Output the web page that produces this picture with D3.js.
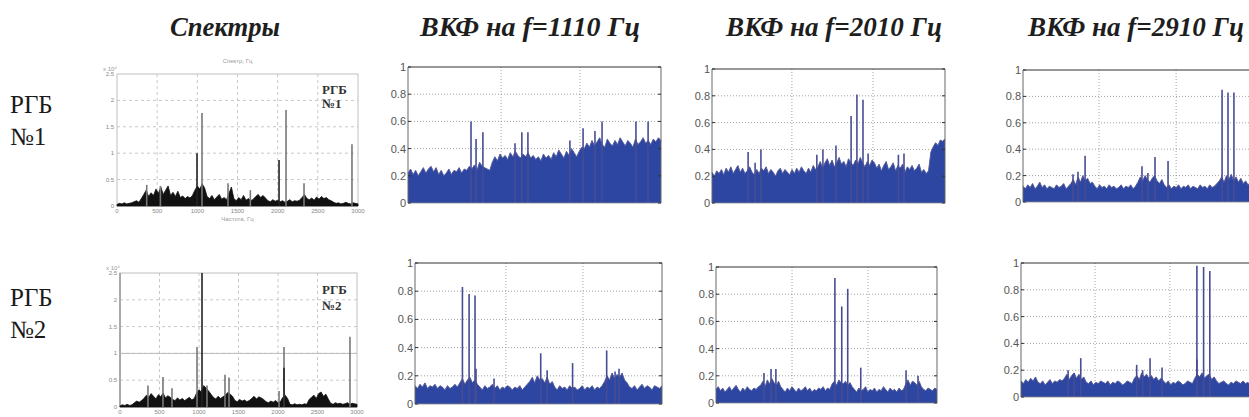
<!DOCTYPE html>
<html><head><meta charset="utf-8">
<script src="https://cdn.jsdelivr.net/npm/d3@7"></script>
<style>html,body{margin:0;padding:0;background:#fff;overflow:hidden}</style>
</head><body><svg id="c" width="1249" height="417"></svg>
<script>
// ---------- DATA ----------
const columnTitles = ["Спектры", "ВКФ на f=1110 Гц", "ВКФ на f=2010 Гц", "ВКФ на f=2910 Гц"];
const rowLabels = [["РГБ", "№1"], ["РГБ", "№2"]];
const insetLabels = [["РГБ", "№1"], ["РГБ", "№2"]];

const ccfTicks = [0, 0.2, 0.4, 0.6, 0.8, 1];
const ccfTickLabels = ["0", "0.2", "0.4", "0.6", "0.8", "1"];
const specXTicks = [0, 500, 1000, 1500, 2000, 2500, 3000];
const specXTickLabels = ["0", "500", "1000", "1500", "2000", "2500", "3000"];
const specYTicks = [0, 0.5, 1, 1.5, 2, 2.5];
const specYTickLabels = ["0", "0.5", "1", "1.5", "2", "2.5"];
const specXLabel = "Частота, Гц";
const specTitle = "Спектр, Гц";
const specMultiplier = "x 10⁴";

// spectrum floors (100 samples over 0..3000 Hz), amplitude x10^4
const spec1Floor = [0.03,0.05,0.04,0.06,0.04,0.05,0.06, 0.08,0.1,0.07, 0.14,0.22,0.3,0.18,0.25,
  0.2,0.32,0.24,0.36,0.22,0.3,0.38,0.2,0.26,0.18,0.28, 0.16,0.19,0.14,0.18,0.15,0.2,
  0.3,0.38,0.32,0.42,0.34, 0.18,0.14,0.2,0.12,0.17,0.22,0.13,0.16,0.12, 0.24,0.36,
  0.14,0.1,0.16,0.12,0.2,0.11,0.14,0.1,0.13, 0.18,0.22,0.16,0.2,0.15,
  0.1,0.08,0.12,0.09,0.11,0.08,0.1,0.07,0.09,0.12,0.08,0.1,0.09,0.11, 0.16,0.22,0.14,
  0.12,0.15,0.11,0.17,0.13,0.18,0.14,0.16,0.12,0.1, 0.07,0.05,0.06,0.04,0.05,0.07,0.05,0.04,0.06,0.05,0.04];
const spec1PeakHz = [370, 540, 996, 1058, 1382, 1660, 2017, 2104, 2328, 2925];
const spec1PeakAmp = [0.4, 0.38, 1.0, 1.76, 0.43, 0.3, 0.87, 1.82, 0.43, 1.17];

const spec2Floor = [0.02,0.04,0.03,0.05,0.03,0.04, 0.08,0.11,0.09,0.12,
  0.16,0.22,0.18,0.25,0.2,0.15,0.23,0.19,0.26,0.17,0.21,0.18, 0.14,0.12,0.17,0.13,0.16,0.12,0.15,0.18,0.13,0.16,
  0.26,0.32,0.28,0.4,0.35,0.3,0.24, 0.18,0.15,0.2,0.16,0.19, 0.22,0.27,0.24,0.2,
  0.12,0.1,0.14,0.11,0.13,0.1,0.12, 0.16,0.2,0.15,0.19,0.17,0.14, 0.1,0.08,0.11,0.09,0.12,0.08,0.1,
  0.18,0.22,0.16, 0.05,0.04,0.06,0.04,0.05,0.04,0.06,0.05, 0.14,0.18,0.22,0.16,0.25,0.28,0.2,0.24,0.15,
  0.07,0.05,0.08,0.06,0.07,0.05,0.06,0.08,0.05,0.07,0.06,0.05];
const spec2PeakHz = [354, 544, 658, 975, 1038, 1101, 1329, 1380, 2013, 2076, 2076, 2911];
const spec2PeakAmp = [0.4, 0.56, 0.35, 1.12, 2.5, 0.4, 0.6, 0.55, 0.3, 1.12, 0.73, 1.31];

// cross-correlation floors (100 samples across the lag window) and peaks (position fraction, value)
const ccf11Floor = [0.22,0.25,0.21,0.24,0.2,0.23,0.26,0.22,0.25,0.27,0.23,0.26,0.21,0.24,0.2,0.22,0.25,0.21,0.24,0.23,0.26,0.22,0.25,0.24,0.27,
  0.25,0.28,0.24,0.3,0.27,0.26,0.25,0.24,
  0.3,0.34,0.31,0.36,0.33,0.35,0.32,0.37,0.34,0.38,0.35,0.33,0.36,0.34,0.37,0.33,0.35,0.32,
  0.34,0.31,0.36,0.33,0.35,0.32,0.37,0.34,0.39,0.36,0.33,0.38,0.35,0.4,0.37,0.34,0.38,0.41,
  0.4,0.44,0.41,0.46,0.42,0.45,0.48,0.43,0.41,0.47,0.44,0.42,0.46,0.43,0.48,0.45,0.42,0.46,0.44,0.41,0.47,0.43,0.45,0.48,0.44,0.46,0.43,0.47,0.45,0.48,0.46];
const ccf11PeakPos = [0.249, 0.269, 0.296, 0.423, 0.45, 0.474, 0.64, 0.692, 0.739, 0.767, 0.901, 0.949];
const ccf11PeakVal = [0.6, 0.47, 0.52, 0.44, 0.52, 0.52, 0.46, 0.55, 0.53, 0.6, 0.6, 0.6];

const ccf12Floor = [0.23,0.2,0.24,0.22,0.25,0.21,0.26,0.23,0.27,0.22,0.25,0.28,0.23,0.26,0.22,0.24,0.27,0.23,0.21,0.25,0.22,0.26,0.24,0.27,0.22,0.25,0.23,0.2,0.24,0.26,0.22,0.25,0.23,
  0.21,0.25,0.22,0.26,0.23,0.27,0.24,0.22,0.26,0.23,0.28,0.25,
  0.27,0.31,0.26,0.3,0.33,0.28,0.32,0.27,0.3,0.34,0.29,0.31,0.27,0.33,0.3,0.28,0.32,0.29,0.34,0.3,0.27,0.31,0.28,0.32,0.3,
  0.26,0.29,0.24,0.28,0.31,0.25,0.27,0.3,0.24,0.28,0.26,0.29,0.23,0.27,0.25,0.28,0.24,0.26,0.29,0.23,0.25,0.22,0.24,
  0.38,0.42,0.45,0.43,0.47,0.46,0.48];
const ccf12PeakPos = [0.155, 0.185, 0.21, 0.45, 0.476, 0.532, 0.597, 0.622, 0.648, 0.67, 0.8, 0.824];
const ccf12PeakVal = [0.38, 0.3, 0.4, 0.36, 0.4, 0.43, 0.65, 0.81, 0.77, 0.37, 0.36, 0.37];

const ccf13Floor = [0.12,0.1,0.13,0.11,0.14,0.1,0.12,0.15,0.11,0.13,0.1,0.12,0.11,0.1,0.13,0.11,0.12,0.14,0.1,0.12,
  0.14,0.17,0.13,0.19,0.15,0.2,0.16,0.18,0.14,0.15,
  0.12,0.1,0.13,0.11,0.12,0.1,0.13,0.11,0.12,0.1,0.11,0.13,0.1,0.12,0.11,0.13,0.1,0.12,
  0.15,0.19,0.16,0.2,0.17,0.15,0.18,0.2,0.16,0.14,0.17,0.13,
  0.11,0.13,0.1,0.12,0.11,0.13,0.1,0.12,0.11,0.13,0.1,0.12,0.11,0.1,0.13,0.11,0.12,0.1,0.13,0.11,0.12,0.14,
  0.16,0.19,0.15,0.2,0.17,0.21,0.16,0.19,0.15,0.18,0.14,0.16,0.13,0.15,0.12,0.14,0.13,0.12];
const ccf13PeakPos = [0.211, 0.232, 0.262, 0.502, 0.527, 0.557, 0.612, 0.84, 0.865, 0.89];
const ccf13PeakVal = [0.21, 0.23, 0.35, 0.27, 0.22, 0.34, 0.31, 0.85, 0.83, 0.83];

const ccf21Floor = [0.13,0.11,0.14,0.12,0.15,0.11,0.13,0.12,0.14,0.11,0.13,0.12,0.1,0.13,0.11,0.12,0.14,0.12,
  0.15,0.18,0.14,0.17,0.19,0.15,0.17,0.14,
  0.12,0.1,0.13,0.11,0.12,0.14,0.11,0.13,0.1,0.12,0.11,0.13,0.12,0.1,0.12,0.11,0.13,0.1,0.12,0.14,
  0.16,0.19,0.15,0.2,0.17,0.18,0.15,0.19,0.14,0.16,
  0.12,0.1,0.13,0.11,0.12,0.1,0.13,0.11,0.12,0.1,0.11,0.13,0.1,0.12,0.11,0.13,0.1,0.12,0.11,0.13,
  0.16,0.2,0.17,0.22,0.18,0.21,0.19,0.22,0.17,0.15,
  0.12,0.11,0.13,0.1,0.12,0.14,0.11,0.13,0.12,0.1,0.13,0.12,0.11,0.13];
const ccf21PeakPos = [0.192, 0.219, 0.243, 0.247, 0.32, 0.509, 0.535, 0.638, 0.776, 0.81, 0.826];
const ccf21PeakVal = [0.83, 0.78, 0.77, 0.25, 0.18, 0.36, 0.24, 0.29, 0.38, 0.23, 0.25];

const ccf22Floor = [0.1,0.12,0.09,0.11,0.08,0.1,0.12,0.09,0.11,0.13,0.1,0.08,0.11,0.09,0.12,0.1,0.09,0.11,0.1,0.12,
  0.13,0.16,0.12,0.17,0.14,0.18,0.15,0.13,0.16,0.12,
  0.1,0.08,0.11,0.09,0.12,0.1,0.08,0.11,0.09,0.1,0.12,0.09,0.11,0.08,0.1,0.09,0.11,0.1,0.12,0.09,0.11,0.1,
  0.14,0.16,0.13,0.17,0.15,0.14,0.16,0.13,0.15,0.12,
  0.1,0.08,0.11,0.09,0.1,0.12,0.08,0.1,0.09,0.11,0.08,0.1,0.09,0.12,0.1,0.08,0.11,0.09,0.1,0.08,0.11,0.09,0.1,
  0.14,0.17,0.13,0.16,0.15,0.13,0.16,0.12,
  0.1,0.09,0.11,0.1,0.09,0.11,0.1];
const ccf22PeakPos = [0.217, 0.249, 0.271, 0.538, 0.569, 0.596, 0.655, 0.86, 0.914];
const ccf22PeakVal = [0.22, 0.25, 0.25, 0.92, 0.71, 0.84, 0.26, 0.24, 0.2];

const ccf23Floor = [0.12,0.1,0.13,0.11,0.14,0.12,0.15,0.11,0.1,0.12,0.09,0.11,0.13,0.1,0.12,0.11,0.13,0.12,
  0.14,0.17,0.13,0.16,0.18,0.14,0.17,0.13,0.15,
  0.11,0.1,0.12,0.09,0.11,0.1,0.12,0.11,0.1,0.12,0.09,0.11,0.1,0.12,0.11,0.09,0.1,0.12,0.11,0.1,
  0.14,0.16,0.13,0.18,0.15,0.17,0.14,0.16,0.13,0.15,0.12,0.14,0.12,
  0.1,0.12,0.09,0.11,0.1,0.12,0.11,0.09,0.1,0.12,0.11,0.1,
  0.14,0.17,0.15,0.18,0.14,0.16,0.17,0.13,0.15,0.12,
  0.1,0.11,0.12,0.1,0.09,0.11,0.1,0.12,0.11,0.1,0.12,0.1,0.11,0.09,0.12,0.1,0.11,0.1];
const ccf23PeakPos = [0.197, 0.222, 0.25, 0.484, 0.509, 0.54, 0.59, 0.736, 0.736, 0.764, 0.79];
const ccf23PeakVal = [0.2, 0.18, 0.29, 0.24, 0.2, 0.29, 0.22, 0.98, 0.28, 0.97, 0.94];

// vertical grid positions (fraction of lag window) for each correlation panel
const ccfGrid = [[0.368, 0.68], [0.343, 0.691], [0.321, 0.646], [0.368, 0.68], [0.344, 0.688], [0.31, 0.623]];

// ---------- LAYOUT ----------
const svg = d3.select("#c");
const serif = "'Liberation Serif','DejaVu Serif',serif";
const sans = "'Liberation Sans',Arial,sans-serif";

const specBoxes = [{l:117,r:358,t:74,b:206},{l:120,r:357,t:273,b:407}];
const ccfBoxes = [
  {l:408,r:661,t:67,b:203},{l:712,r:945,t:69,b:203},{l:1023,r:1260,t:70,b:202},
  {l:415,r:662,t:263,b:404},{l:716,r:937,t:267,b:403},{l:1021,r:1260,t:263,b:397}];

// titles
const titleX = [225, 530, 834, 1136];
const titleW = [110, 220, 216, 216];
columnTitles.forEach((t, i) => {
  svg.append("text").attr("x", titleX[i]).attr("y", 36)
    .attr("text-anchor", "middle").attr("font-family", serif)
    .attr("font-weight", "bold").attr("font-style", "italic")
    .attr("font-size", 27).attr("fill", "#1e1e1e")
    .attr("textLength", titleW[i]).attr("lengthAdjust", "spacingAndGlyphs")
    .text(t);
});
// row labels
const rowBase = [[113, 145], [306, 338]];
rowLabels.forEach((lines, r) => {
  lines.forEach((s, j) => {
    svg.append("text").attr("x", 10).attr("y", rowBase[r][j])
      .attr("font-family", serif).attr("font-size", 25).attr("fill", "#1a1a1a").text(s);
  });
});

// ---------- SPECTRA ----------
const specData = [
  {floor: spec1Floor, hz: spec1PeakHz, amp: spec1PeakAmp},
  {floor: spec2Floor, hz: spec2PeakHz, amp: spec2PeakAmp}];
const insetBase = [[94, 108], [294, 310]];
specData.forEach((d, r) => {
  const b = specBoxes[r];
  const x = d3.scaleLinear().domain([0, 3000]).range([b.l, b.r]);
  const y = d3.scaleLinear().domain([0, 2.5]).range([b.b, b.t]);
  const g = svg.append("g");
  // grid
  g.selectAll(".vg").data(specXTicks.slice(1, -1)).join("line")
    .attr("x1", v => x(v)).attr("x2", v => x(v)).attr("y1", b.t).attr("y2", b.b)
    .attr("stroke", "#c8c8c8").attr("stroke-dasharray", "3,3");
  g.selectAll(".hg").data(specYTicks.slice(1, -1)).join("line")
    .attr("x1", b.l).attr("x2", b.r).attr("y1", v => y(v)).attr("y2", v => y(v))
    .attr("stroke", "#c8c8c8").attr("stroke-dasharray", "3,3");
  g.append("rect").attr("x", b.l).attr("y", b.t).attr("width", b.r - b.l).attr("height", b.b - b.t)
    .attr("fill", "none").attr("stroke", "#c0c0c0");
  if (r === 1) {
    g.append("line").attr("x1", b.l).attr("x2", b.l).attr("y1", b.t).attr("y2", b.b)
      .attr("stroke", "#999").attr("stroke-width", 1.5);
    g.append("line").attr("x1", b.l).attr("x2", b.r).attr("y1", y(1)).attr("y2", y(1))
      .attr("stroke", "#bbb").attr("stroke-width", 1);
  }
  // floor
  const n = d.floor.length;
  const area = d3.area().x((v, i) => x(i * 3000 / (n - 1))).y0(y(0)).y1(v => y(v));
  g.append("path").datum(d.floor).attr("d", area).attr("fill", "#111").attr("stroke", "#111").attr("stroke-width", 0.8);
  // peaks
  g.selectAll(".pk").data(d.hz).join("line")
    .attr("x1", v => x(v)).attr("x2", v => x(v)).attr("y1", y(0))
    .attr("y2", (v, i) => y(d.amp[i]))
    .attr("stroke", (v, i) => d.amp[i] > 0.6 && i % 2 === 0 ? "#222" : "#777").attr("stroke-width", 1.6);
  // tick labels
  g.selectAll(".xl").data(specXTicks).join("text")
    .attr("x", v => x(v)).attr("y", b.b + 7).attr("text-anchor", "middle")
    .attr("font-family", sans).attr("font-size", 6).attr("fill", "#888")
    .text((v, i) => specXTickLabels[i]);
  g.selectAll(".yl").data(specYTicks).join("text")
    .attr("x", b.l - 3).attr("y", v => y(v) + 2).attr("text-anchor", "end")
    .attr("font-family", sans).attr("font-size", 6).attr("fill", "#888")
    .text((v, i) => specYTickLabels[i]);
  g.append("text").attr("x", b.l - 14).attr("y", b.t - 3).attr("font-family", sans)
    .attr("font-size", 6).attr("fill", "#999").text(specMultiplier);
  if (r === 0) {
    g.append("text").attr("x", (b.l + b.r) / 2).attr("y", b.b + 15).attr("text-anchor", "middle")
      .attr("font-family", sans).attr("font-size", 6).attr("fill", "#999").text(specXLabel);
    g.append("text").attr("x", (b.l + b.r) / 2).attr("y", b.t - 11).attr("text-anchor", "middle")
      .attr("font-family", sans).attr("font-size", 6).attr("fill", "#999").text(specTitle);
  }
  insetLabels[r].forEach((s, j) => {
    g.append("text").attr("x", 322).attr("y", insetBase[r][j]).attr("font-family", serif)
      .attr("font-weight", "bold").attr("font-size", 13).attr("fill", "#333").text(s);
  });
});

// ---------- CROSS-CORRELATIONS ----------
const ccfData = [
  {floor: ccf11Floor, pos: ccf11PeakPos, val: ccf11PeakVal},
  {floor: ccf12Floor, pos: ccf12PeakPos, val: ccf12PeakVal},
  {floor: ccf13Floor, pos: ccf13PeakPos, val: ccf13PeakVal},
  {floor: ccf21Floor, pos: ccf21PeakPos, val: ccf21PeakVal},
  {floor: ccf22Floor, pos: ccf22PeakPos, val: ccf22PeakVal},
  {floor: ccf23Floor, pos: ccf23PeakPos, val: ccf23PeakVal}];
const blue = "#2c46a2";
ccfData.forEach((d, k) => {
  const b = ccfBoxes[k];
  const x = d3.scaleLinear().domain([0, 1]).range([b.l, b.r]);
  const y = d3.scaleLinear().domain([0, 1]).range([b.b, b.t]);
  const g = svg.append("g");
  // grid
  g.selectAll(".hg").data(ccfTicks.slice(1, -1)).join("line")
    .attr("x1", b.l).attr("x2", b.r).attr("y1", v => y(v)).attr("y2", v => y(v))
    .attr("stroke", "#8a8a8a").attr("stroke-width", 0.8).attr("stroke-dasharray", "1,2");
  g.selectAll(".vg").data(ccfGrid[k]).join("line")
    .attr("x1", v => x(v)).attr("x2", v => x(v)).attr("y1", b.t).attr("y2", b.b)
    .attr("stroke", "#8a8a8a").attr("stroke-width", 0.8).attr("stroke-dasharray", "1,2");
  // floor
  const n = d.floor.length;
  const area = d3.area().x((v, i) => x(i / (n - 1))).y0(y(0)).y1(v => y(v));
  g.append("path").datum(d.floor).attr("d", area).attr("fill", blue);
  const line = d3.line().x((v, i) => x(i / (n - 1))).y(v => y(v));
  g.append("path").datum(d.floor).attr("d", line).attr("fill", "none")
    .attr("stroke", "#565c9c").attr("stroke-width", 1);
  // peaks
  g.selectAll(".pk").data(d.pos).join("line")
    .attr("x1", v => x(v)).attr("x2", v => x(v)).attr("y1", y(0))
    .attr("y2", (v, i) => y(d.val[i]))
    .attr("stroke", "#474c94").attr("stroke-width", 1.6);
  // box
  g.append("line").attr("x1", b.l).attr("x2", b.r).attr("y1", b.t).attr("y2", b.t)
    .attr("stroke", "#333").attr("stroke-width", 1.2);
  g.append("line").attr("x1", b.l).attr("x2", b.l).attr("y1", b.t).attr("y2", b.b)
    .attr("stroke", "#666").attr("stroke-width", 1);
  g.append("line").attr("x1", b.r).attr("x2", b.r).attr("y1", b.t).attr("y2", b.b)
    .attr("stroke", "#666").attr("stroke-width", 1);
  g.append("line").attr("x1", b.l).attr("x2", b.r).attr("y1", b.b).attr("y2", b.b)
    .attr("stroke", "#888").attr("stroke-width", 0.8);
  // ticks
  g.selectAll(".tk").data(ccfTicks).join("line")
    .attr("x1", b.l).attr("x2", b.l + 3).attr("y1", v => y(v)).attr("y2", v => y(v))
    .attr("stroke", "#333");
  g.selectAll(".tkr").data(ccfTicks).join("line")
    .attr("x1", b.r - 3).attr("x2", b.r).attr("y1", v => y(v)).attr("y2", v => y(v))
    .attr("stroke", "#333");
  g.selectAll(".yl").data(ccfTicks).join("text")
    .attr("x", b.l - 2).attr("y", v => y(v) + 4).attr("text-anchor", "end")
    .attr("font-family", sans).attr("font-size", 11).attr("fill", "#555")
    .text((v, i) => ccfTickLabels[i]);
});
</script>
</body></html>
